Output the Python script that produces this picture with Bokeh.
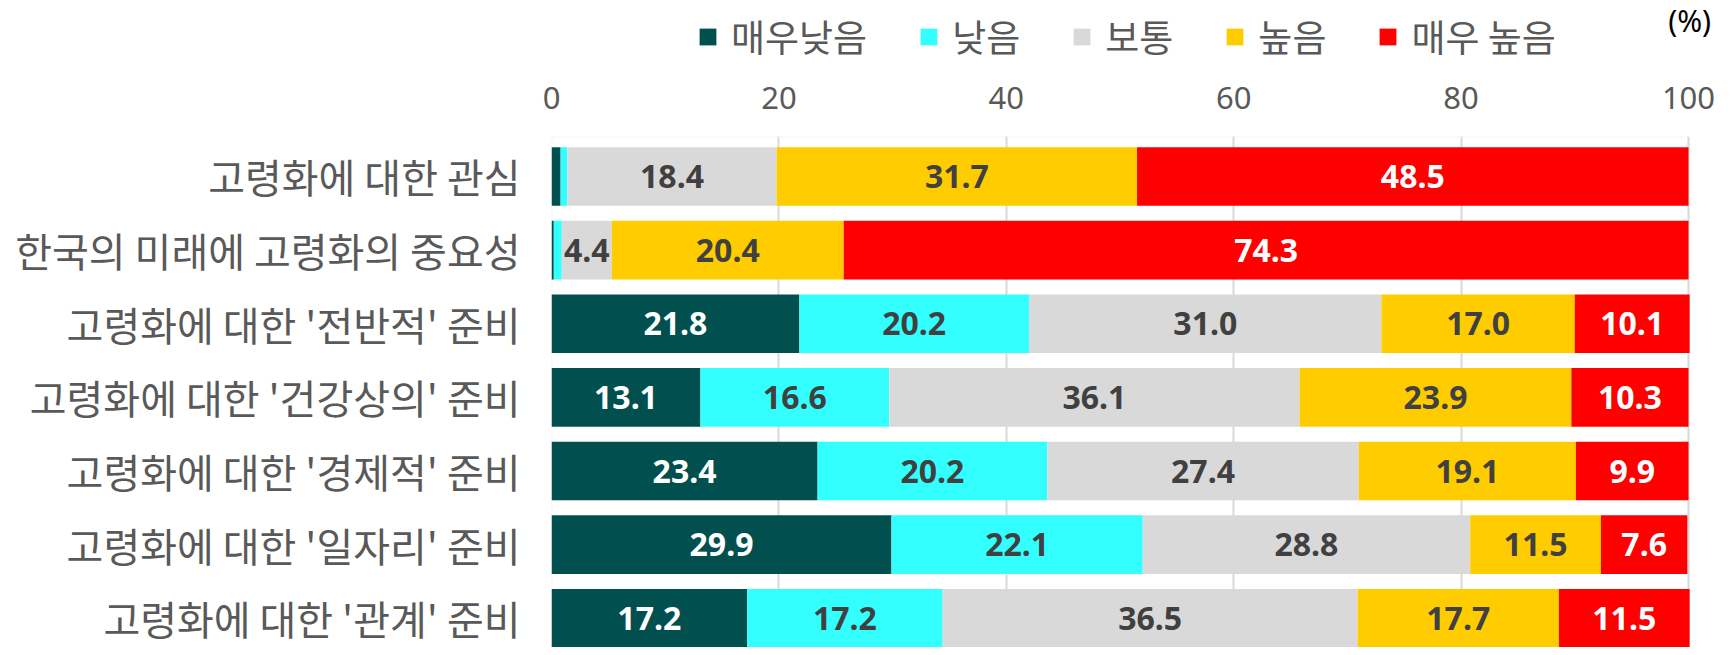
from bokeh.plotting import figure
from bokeh.layouts import column
from bokeh.models import Range1d, FixedTicker, Legend, LegendItem, Label, ColumnDataSource, BoxAnnotation
from bokeh.core.properties import value
from bokeh.embed import file_html
from bokeh.resources import INLINE

categories = [
    "고령화에 대한 관심",
    "한국의 미래에 고령화의 중요성",
    "고령화에 대한 '전반적' 준비",
    "고령화에 대한 '건강상의' 준비",
    "고령화에 대한 '경제적' 준비",
    "고령화에 대한 '일자리' 준비",
    "고령화에 대한 '관계' 준비",
]
series_names = ["매우낮음", "낮음", "보통", "높음", "매우 높음"]
very_low = [0.8, 0.2, 21.8, 13.1, 23.4, 29.9, 17.2]
low = [0.6, 0.7, 20.2, 16.6, 20.2, 22.1, 17.2]
neutral = [18.4, 4.4, 31.0, 36.1, 27.4, 28.8, 36.5]
high = [31.7, 20.4, 17.0, 23.9, 19.1, 11.5, 17.7]
very_high = [48.5, 74.3, 10.1, 10.3, 9.9, 7.6, 11.5]
x_ticks = [0, 20, 40, 60, 80, 100]
unit_label = "(%)"

series = [very_low, low, neutral, high, very_high]
colors = ["#01504F", "#33FFFF", "#D9D9D9", "#FFCC00", "#FF0000"]
text_colors = ["#FFFFFF", "#404040", "#404040", "#404040", "#FFFFFF"]

W = 1718
TOP_H = 66
LEFT_B = 551
X_END = 100 + 30 / 11.37   # frame runs past 100 to the figure's right edge
ys = list(range(len(categories)))

# ---- top strip: legend and unit label ----
top = figure(
    width=W, height=TOP_H,
    x_range=Range1d(0, X_END), y_range=Range1d(TOP_H, 0),
    output_backend="svg", toolbar_location=None,
    min_border=0, min_border_left=LEFT_B, min_border_right=0,
    min_border_top=0, min_border_bottom=0,
)
top.axis.visible = False
top.grid.visible = False
top.outline_line_color = None

leg_items = []
for name, col in zip(series_names, colors):
    # legend proxy with zero extent (not visible)
    r = top.hbar(y=[0], left=[0], right=[0], height=0, fill_color=col, line_color=None)
    leg_items.append(LegendItem(label=name, renderers=[r]))

legend = Legend(
    items=leg_items, orientation="horizontal",
    location=(146, 3),
    glyph_width=21, glyph_height=21, label_standoff=13, spacing=51,
    padding=0, margin=0, border_line_color=None, background_fill_alpha=0,
    label_text_font="Noto Sans CJK KR", label_text_font_size="37px",
    label_text_color="#595959",
)
top.add_layout(legend, "center")
top.add_layout(Label(x=100.1, y=20, text=unit_label, text_align="center",
                     text_baseline="middle", text_font="Noto Sans",
                     text_font_size="30px", text_color="#000000"))

# ---- main chart ----
p = figure(
    width=W, height=647 - TOP_H,
    x_range=Range1d(0, X_END),
    y_range=Range1d(6.397, -0.543),
    x_axis_location="above",
    output_backend="svg", toolbar_location=None,
    min_border_left=LEFT_B, min_border_right=0,
    min_border_top=136 - TOP_H, min_border_bottom=0,
)
p.outline_line_color = None
p.add_layout(BoxAnnotation(left=0, right=100, top=-0.543, bottom=6.397,
                           fill_alpha=0, line_color="#D9D9D9", line_width=2,
                           level="underlay"))

left = [0.0] * len(categories)
for name, vals, col, tcol in zip(series_names, series, colors, text_colors):
    right = [l + v for l, v in zip(left, vals)]
    src = ColumnDataSource(dict(y=ys, left=left, right=right, v=vals))
    p.hbar(y="y", left="left", right="right", height=0.795, source=src,
           fill_color=col, line_color=None)
    lx, ly, lt = [], [], []
    for yy, l, rr, v in zip(ys, left, right, vals):
        if v >= 3:
            lx.append((l + rr) / 2)
            ly.append(yy)
            lt.append(f"{v:.1f}")
    tsrc = ColumnDataSource(dict(x=lx, y=ly, t=lt))
    p.text(x="x", y="y", text="t", source=tsrc, text_align="center",
           text_baseline="middle", text_font=value("Noto Sans"),
           text_font_style="bold", text_font_size="32px", text_color=tcol)
    left = right

p.xaxis.ticker = FixedTicker(ticks=x_ticks)
p.xaxis.axis_line_color = None
p.xaxis.major_tick_line_color = None
p.xaxis.minor_tick_line_color = None
p.xaxis.major_tick_out = 0
p.xaxis.major_label_standoff = 28
p.xaxis.major_label_text_font = "Noto Sans"
p.xaxis.major_label_text_font_size = "31px"
p.xaxis.major_label_text_color = "#595959"

p.yaxis.ticker = FixedTicker(ticks=ys)
p.yaxis.major_label_overrides = {i: c for i, c in zip(ys, categories)}
p.yaxis.axis_line_color = None
p.yaxis.major_tick_line_color = None
p.yaxis.minor_tick_line_color = None
p.yaxis.major_tick_out = 0
p.yaxis.major_label_standoff = 31
p.yaxis.major_label_text_font = "Noto Sans CJK KR"
p.yaxis.major_label_text_font_size = "40px"
p.yaxis.major_label_text_color = "#595959"

p.xgrid.ticker = FixedTicker(ticks=x_ticks)
p.xgrid.grid_line_color = "#D9D9D9"
p.xgrid.grid_line_width = 2
p.ygrid.grid_line_color = None

layout = column(top, p, spacing=0)
open("out.html", "w").write(file_html(layout, INLINE))
